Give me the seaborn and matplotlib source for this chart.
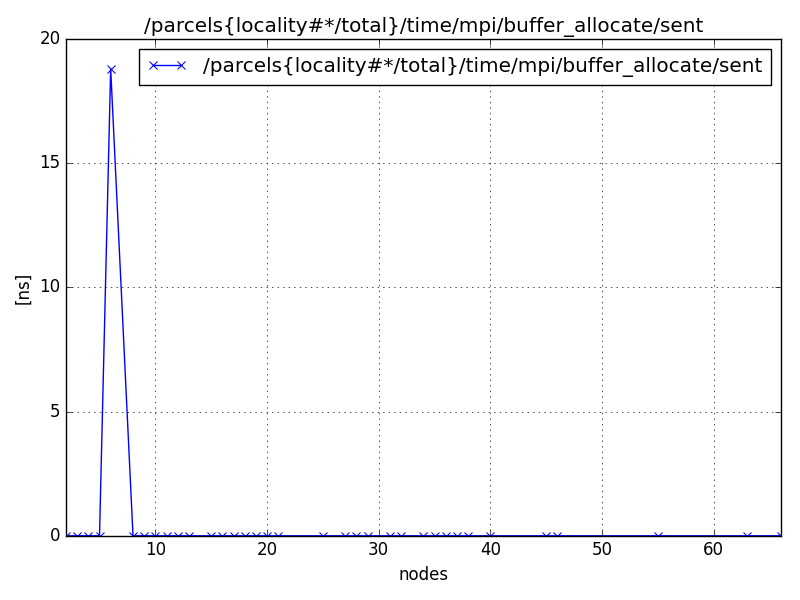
import matplotlib
matplotlib.use("Agg")
import matplotlib.pyplot as plt
import seaborn as sns

# === Datos ===
nodes = [2, 3, 4, 5, 6, 8, 9, 10, 11, 12, 13, 15, 16, 17, 18, 19, 20, 21,
         25, 27, 28, 29, 31, 32, 34, 35, 36, 37, 38, 40, 45, 46, 55, 63, 66]
values = [0, 0, 0, 0, 18.8, 0, 0, 0, 0, 0, 0, 0, 0, 0, 0, 0, 0, 0,
          0, 0, 0, 0, 0, 0, 0, 0, 0, 0, 0, 0, 0, 0, 0, 0, 0]
label = "/parcels{locality#*/total}/time/mpi/buffer_allocate/sent"

plt.style.use("classic")
plt.rcParams["font.family"] = ["DejaVu Sans"]

fig, ax = plt.subplots(figsize=(8, 6), dpi=100)
fig.patch.set_facecolor("white")

sns.lineplot(x=nodes, y=values, ax=ax, color="blue", marker="x",
             markersize=6, markeredgecolor="blue", label=label)

ax.set_xlim(2, 66)
ax.set_ylim(0, 20)
ax.set_xticks([10, 20, 30, 40, 50, 60])
ax.set_yticks([0, 5, 10, 15, 20])
ax.grid(True, linestyle=":", color="black")
ax.set_xlabel("nodes")
ax.set_ylabel("[ns]")
ax.set_title(label)
ax.legend(loc="upper right", fontsize="large", numpoints=2)

fig.subplots_adjust(left=0.0825, right=0.976, top=0.935, bottom=0.107)
plt.savefig("out.png", dpi=100)
